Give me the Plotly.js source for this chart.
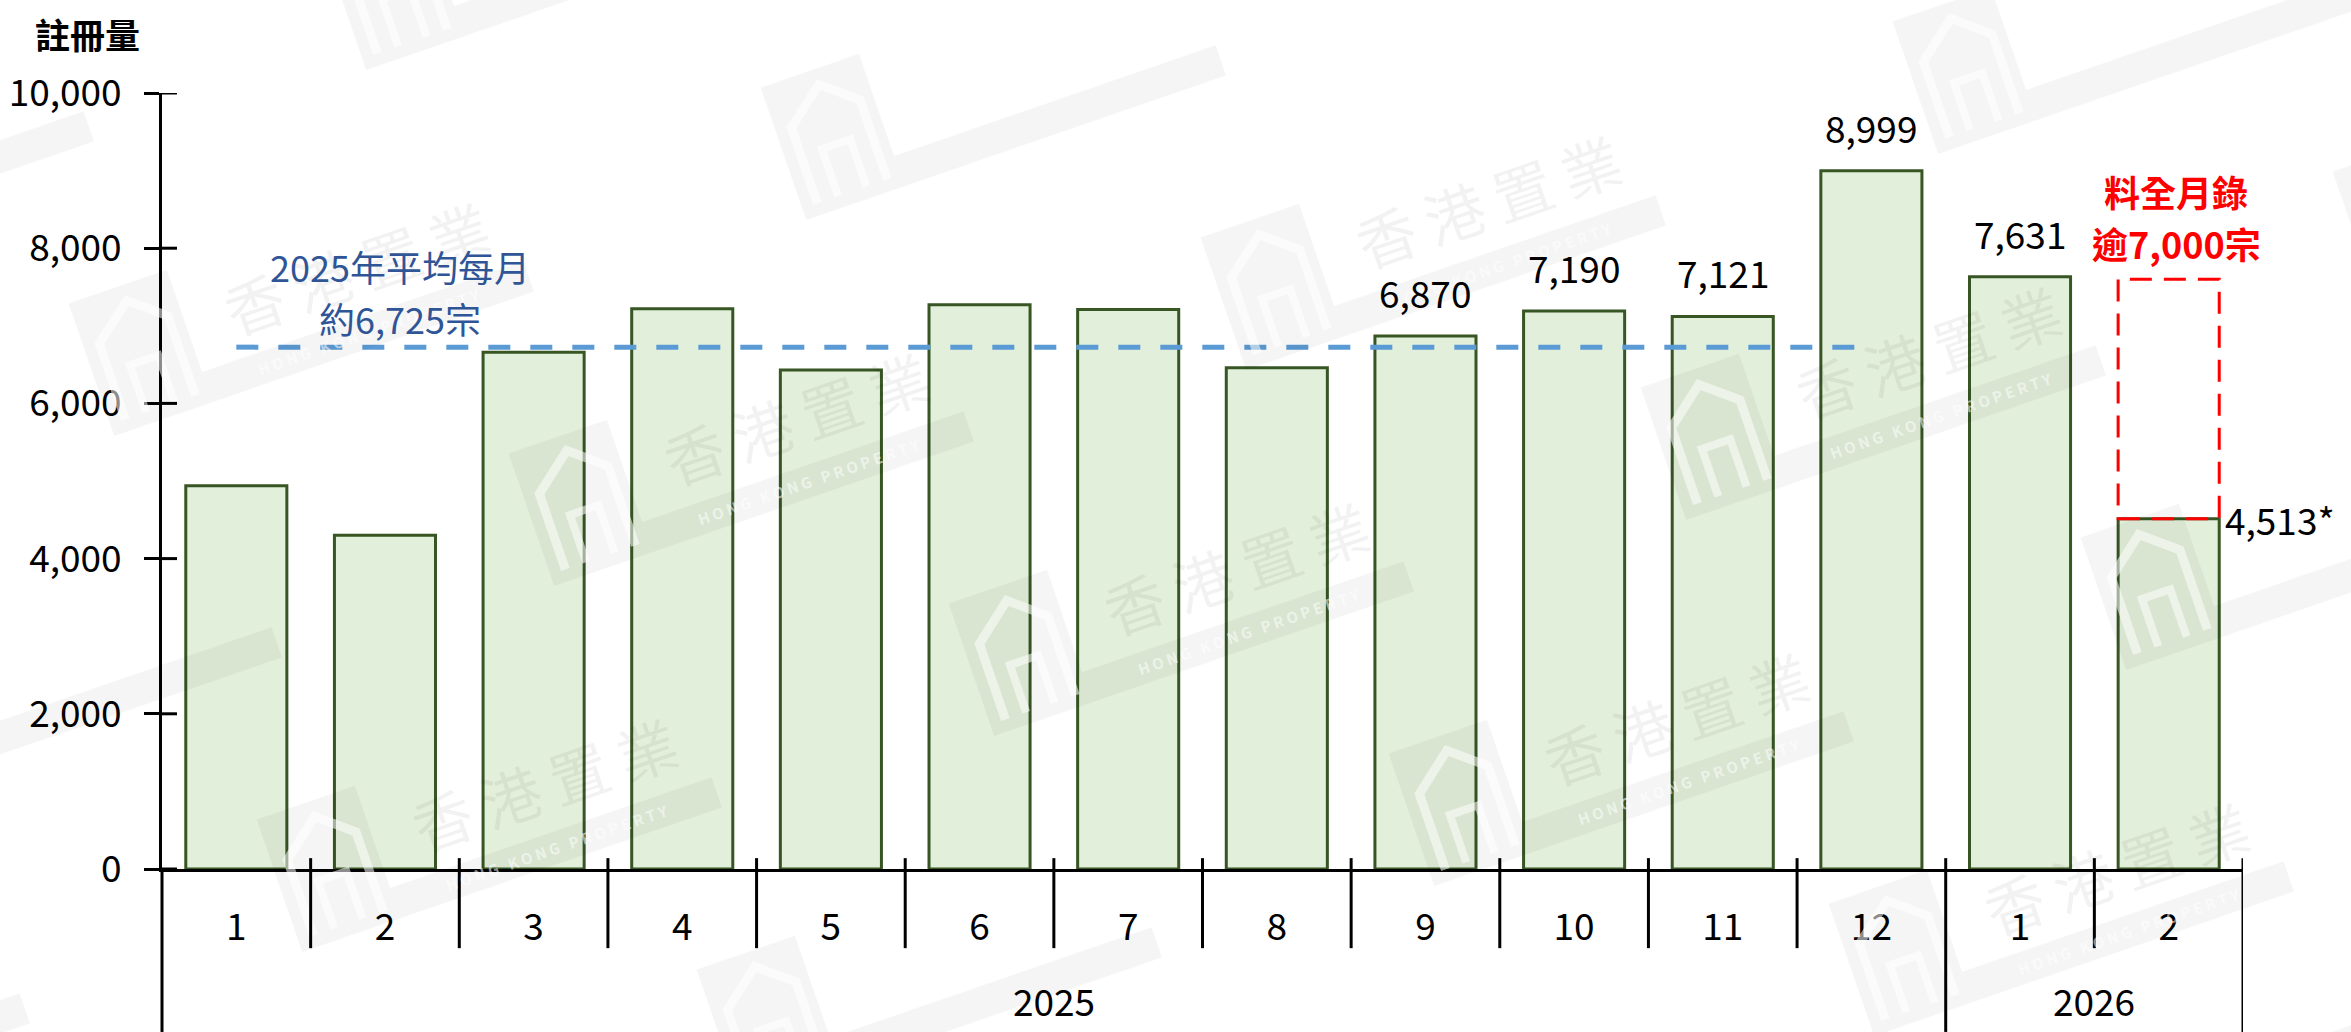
<!DOCTYPE html>
<html>
<head>
<meta charset="utf-8">
<script src="https://cdn.plot.ly/plotly-3.0.1.min.js"></script>
<style>html,body{margin:0;padding:0;background:#fff;}#chart{width:2351px;height:1032px;}</style>
</head>
<body>
<div id="chart"></div>
<script>
// ---- data ----
const monthLabels = ['1','2','3','4','5','6','7','8','9','10','11','12','1','2'];
const yearLabels = ['2025','2026'];
const yearCenters = [5.5, 12.5];
const registrations = [4940, 4300, 6660, 7220, 6430, 7270, 7210, 6460, 6870, 7190, 7121, 8999, 7631, 4513];
const labelledIdx = [8, 9, 10, 11, 12];
const lastIdx = 13;
const lastSuffix = '*';
const avgValue = 6725;
const avgSpan = [0, 11];
const avgText = ['2025年平均每月', '約6,725宗'];
const projectedTop = 7600;
const projectedText = ['料全月錄', '逾7,000宗'];
const yTicks = [0, 2000, 4000, 6000, 8000, 10000];
const yTitle = '註冊量';
const wmTitle = ['香', '港', '置', '業'];
const wmSub = 'HONG KONG PROPERTY';

// ---- build ----
const FONT = '"Noto Sans CJK TC", "Noto Sans", sans-serif';
const W = 2351, H = 1032, ML = 162, MR = 108, MT = 93, MB = 163;
const PW = W - ML - MR, PH = H - MT - MB;
const px2x = p => (p - ML) / PW;
const px2y = p => (H - MB - p) / PH;
const xIdx = registrations.map((_, i) => i);
const fmt = v => v.toLocaleString('en-US');
const BW = 0.68;

const traces = [
  {
    type: 'bar', x: xIdx, y: registrations, width: BW,
    marker: {color: '#e2efda', line: {color: '#375623', width: 3}},
    hoverinfo: 'skip', showlegend: false
  },
  {
    type: 'scatter', mode: 'lines', x: avgSpan, y: [avgValue, avgValue],
    line: {color: '#5b9bd5', width: 5, dash: '22px,20px'},
    hoverinfo: 'skip', showlegend: false
  }
];

const shapes = [];
const annotations = [];

// ---- faint watermark lattice (decoration) ----
const th = 19 * Math.PI / 180, ct = Math.cos(th), st = Math.sin(th);
const toScreen = (c, u, v) => [c[0] + u * ct + v * st, c[1] - u * st + v * ct];
const pathOf = (c, pts, close) => pts.map((p, i) => {
  const s = toScreen(c, p[0], p[1]);
  return (i ? 'L' : 'M') + px2x(s[0]).toFixed(5) + ',' + px2y(s[1]).toFixed(5);
}).join(' ') + (close ? ' Z' : '');
const wmOrigin = [356, 266], wmA = [440, 150], wmB = [188, 516];
const WMF = 'rgba(0,0,0,0.04)', WMT = 'rgba(0,0,0,0.05)', WMW = 'rgba(255,255,255,0.55)';
for (let m = -6; m <= 8; m++) {
  for (let n = -3; n <= 3; n++) {
    const c = [wmOrigin[0] + m * wmA[0] + n * wmB[0], wmOrigin[1] + m * wmA[1] + n * wmB[1]];
    if (c[0] < -150 || c[0] > W + 400 || c[1] < -150 || c[1] > H + 200) continue;
    // logo block
    shapes.push({type: 'path', xref: 'paper', yref: 'paper', layer: 'above', path: pathOf(c, [[-284,-58],[-180,-58],[-180,82],[-284,82]], true), fillcolor: WMF, line: {width: 0}});
    const lc = toScreen(c, -232, 12);
    shapes.push({type: 'path', xref: 'paper', yref: 'paper', layer: 'above', path: pathOf(lc, [[-36,58],[-36,-22],[4,-54],[38,-26],[38,58]], false), line: {color: WMW, width: 9}});
    shapes.push({type: 'path', xref: 'paper', yref: 'paper', layer: 'above', path: pathOf(lc, [[-14,58],[-14,8],[16,8],[16,58]], false), line: {color: WMW, width: 8}});
    // sub band
    shapes.push({type: 'path', xref: 'paper', yref: 'paper', layer: 'above', path: pathOf(c, [[-180,50],[160,50],[160,82],[-180,82]], true), fillcolor: WMF, line: {width: 0}});
    // texts only where fully inside the picture
    if (c[0] > 170 && c[0] < W - 170 && c[1] > 90 && c[1] < H - 120) {
      annotations.push({x: px2x(c[0]), y: px2y(c[1]), xref: 'paper', yref: 'paper', text: wmTitle.join('\u2009'), textangle: -19, showarrow: false, xanchor: 'center', yanchor: 'middle', font: {family: FONT, size: 60, color: WMT}});
      const sc = toScreen(c, -10, 66);
      annotations.push({x: px2x(sc[0]), y: px2y(sc[1]), xref: 'paper', yref: 'paper', text: wmSub.split('').join(' '), textangle: -19, showarrow: false, xanchor: 'center', yanchor: 'middle', font: {family: FONT, size: 15, color: WMW, weight: 'bold'}});
    }
  }
}

// inner halves of y ticks
yTicks.forEach(v => shapes.push({type: 'line', xref: 'paper', yref: 'y', x0: 0, x1: 0.0072, y0: v, y1: v, line: {color: '#000', width: 3}}));
// y-axis extension below
shapes.push({type: 'line', xref: 'paper', yref: 'paper', x0: 0, x1: 0, y0: 0, y1: -0.21, line: {color: '#000', width: 3}});
// category separators
for (let k = 1; k <= monthLabels.length; k++) {
  const b = k - 0.5;
  const yearBoundary = (k === monthLabels.length) || (k === 12);
  shapes.push({type: 'line', xref: 'x', yref: 'paper', x0: b, x1: b, y0: 0.014, y1: yearBoundary ? -0.21 : -0.102, line: {color: '#000', width: 3}});
}
// projected dashed box
shapes.push({type: 'rect', xref: 'x', yref: 'y', x0: lastIdx - BW / 2, x1: lastIdx + BW / 2, y0: registrations[lastIdx], y1: projectedTop,
  line: {color: '#ff0000', width: 3, dash: '22px,12px'}, fillcolor: 'rgba(0,0,0,0)'});

labelledIdx.forEach(i => annotations.push({x: i, y: registrations[i], xref: 'x', yref: 'y', text: fmt(registrations[i]), showarrow: false, yanchor: 'middle', yshift: 44, font: {family: FONT, size: 37, color: '#000'}}));
annotations.push({x: lastIdx + BW / 2, y: registrations[lastIdx], xref: 'x', yref: 'y', text: fmt(registrations[lastIdx]) + lastSuffix, showarrow: false, xanchor: 'left', yanchor: 'middle', xshift: 4, font: {family: FONT, size: 37, color: '#000'}});
projectedText.forEach((t, j) => annotations.push({x: 13.05, y: 8400, xref: 'x', yref: 'y', text: t, showarrow: false, yanchor: 'middle', yshift: (0.5 - j) * 52, font: {family: FONT, size: 36, color: '#ff0000', weight: 'bold'}}));
avgText.forEach((t, j) => annotations.push({x: 1.1, y: 7440, xref: 'x', yref: 'y', text: t, showarrow: false, yanchor: 'middle', yshift: (0.5 - j) * 52, font: {family: FONT, size: 36, color: '#2f5597'}}));
annotations.push({x: -0.036, y: 1.077, xref: 'paper', yref: 'paper', text: yTitle, showarrow: false, xanchor: 'center', yanchor: 'middle', font: {family: FONT, size: 35, color: '#000', weight: 'bold'}});
yearLabels.forEach((t, j) => annotations.push({x: yearCenters[j], y: -0.169, xref: 'x', yref: 'paper', text: t, showarrow: false, yanchor: 'middle', font: {family: FONT, size: 37, color: '#000'}}));

const layout = {
  width: W, height: H,
  margin: {l: ML, r: MR, t: MT, b: MB, pad: 0},
  paper_bgcolor: '#fff', plot_bgcolor: '#fff',
  font: {family: FONT, size: 37, color: '#000'},
  showlegend: false,
  xaxis: {
    range: [-0.5, 13.5], tickmode: 'array', tickvals: xIdx, ticktext: monthLabels,
    showline: true, linecolor: '#000', linewidth: 3, ticks: '', showgrid: false, zeroline: false,
    ticklabelstandoff: 24, tickfont: {family: FONT, size: 37, color: '#000'}, fixedrange: true
  },
  yaxis: {
    range: [0, 10000], tickmode: 'array', tickvals: yTicks, tickformat: ',d',
    showline: true, linecolor: '#000', linewidth: 3, ticks: 'outside', ticklen: 15, tickwidth: 3, tickcolor: '#000',
    showgrid: false, zeroline: false, ticklabelstandoff: 15,
    tickfont: {family: FONT, size: 37, color: '#000'}, fixedrange: true
  },
  shapes: shapes, annotations: annotations,
  bargap: 0.32
};

Plotly.newPlot('chart', traces, layout, {staticPlot: true, displayModeBar: false});
</script>
</body>
</html>
